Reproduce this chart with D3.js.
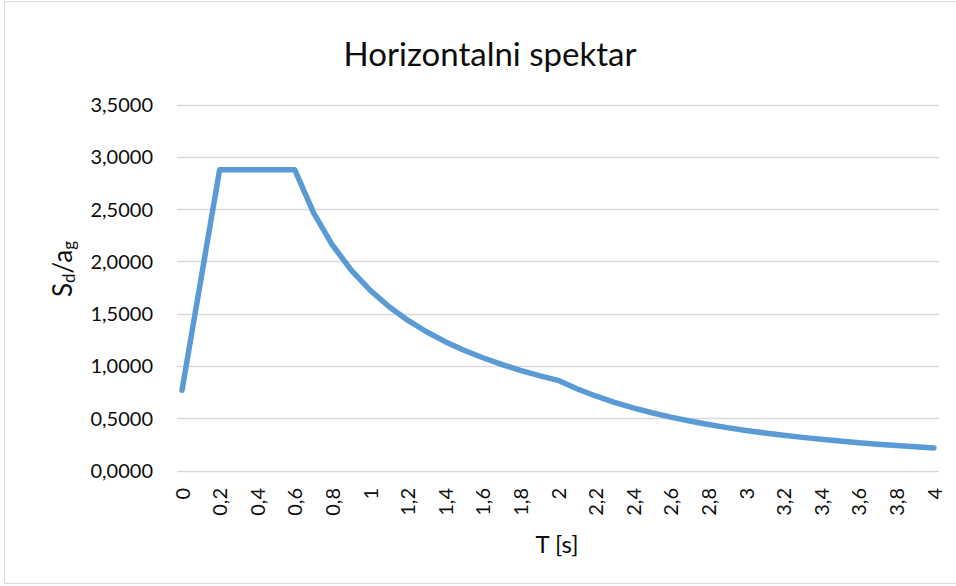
<!DOCTYPE html>
<html>
<head>
<meta charset="utf-8">
<script src="https://cdn.jsdelivr.net/npm/d3@7"></script>
<style>
  html, body { margin: 0; padding: 0; background: #fff; }
  svg { display: block; font-family: Lato, "Open Sans", sans-serif; }
</style>
</head>
<body>
<svg id="chart" width="956" height="586"></svg>
<script>
// ---- data ----
const periods = ["0","0,1","0,2","0,3","0,4","0,5","0,6","0,7","0,8","0,9",
  "1","1,1","1,2","1,3","1,4","1,5","1,6","1,7","1,8","1,9",
  "2","2,1","2,2","2,3","2,4","2,5","2,6","2,7","2,8","2,9",
  "3","3,1","3,2","3,3","3,4","3,5","3,6","3,7","3,8","3,9","4"];
const spectrum = [0.7667, 1.8208, 2.875, 2.875, 2.875, 2.875, 2.875, 2.4643, 2.1563, 1.9167,
  1.725, 1.5682, 1.4375, 1.3269, 1.2321, 1.15, 1.0781, 1.0147, 0.9583, 0.9079,
  0.8625, 0.7823, 0.7128, 0.6522, 0.5990, 0.552, 0.5104, 0.4733, 0.4401, 0.4102,
  0.3833, 0.3590, 0.3369, 0.3168, 0.2984, 0.2816, 0.2662, 0.2520, 0.2389, 0.2268, 0.2156];
const xTickLabels = ["0","0,2","0,4","0,6","0,8","1","1,2","1,4","1,6","1,8",
  "2","2,2","2,4","2,6","2,8","3","3,2","3,4","3,6","3,8","4"];
const yTicks = [0, 0.5, 1, 1.5, 2, 2.5, 3, 3.5];
const titleText = "Horizontalni spektar";
const xTitle = "T [s]";

// ---- layout ----
const svg = d3.select("#chart");
const x = d3.scalePoint().domain(periods).range([182, 934]);
const y = d3.scaleLinear().domain([0, 3.5]).range([470.5, 104.5]);
const gridLeft = 177, gridRight = 939;

// border
svg.append("rect").attr("x", 4.5).attr("y", 1.5).attr("width", 1000).attr("height", 582)
  .attr("fill", "none").attr("stroke", "#d9d9d9").attr("stroke-width", 1);

// gridlines
svg.append("g").selectAll("line").data(yTicks).join("line")
  .attr("x1", gridLeft).attr("x2", gridRight)
  .attr("y1", d => Math.round(y(d)) + 0.5).attr("y2", d => Math.round(y(d)) + 0.5)
  .attr("stroke", "#d9d9d9").attr("stroke-width", 1.5);

// y axis labels
const fmt = d => d3.format(".4f")(d).replace(".", ",");
const yAxis = d3.axisLeft(y).tickValues(yTicks).tickFormat(fmt).tickSize(0).tickPadding(0);
const gy = svg.append("g").attr("transform", "translate(153,0)").call(yAxis);
gy.select(".domain").remove();
gy.selectAll("text").attr("font-size", 20).attr("font-family", "Lato, sans-serif")
  .attr("fill", "#0d0d0d").attr("dy", "0.35em");

// x axis labels
const xAxis = d3.axisBottom(x).tickValues(xTickLabels).tickSize(0).tickPadding(0);
const gx = svg.append("g").attr("transform", "translate(0,488)").call(xAxis);
gx.select(".domain").remove();
gx.selectAll("text")
  .attr("font-size", 20).attr("font-family", "Lato, sans-serif").attr("fill", "#0d0d0d")
  .attr("y", 0).attr("x", 0).attr("dy", "0.35em")
  .attr("transform", "rotate(-90)").attr("text-anchor", "end");

// line
const line = d3.line().x((d, i) => x(periods[i])).y(d => y(d));
svg.append("path").datum(spectrum).attr("d", line)
  .attr("fill", "none").attr("stroke", "#5b9bd5").attr("stroke-width", 5.5)
  .attr("stroke-linejoin", "round").attr("stroke-linecap", "round");

// title
svg.append("text").attr("x", 490).attr("y", 66).attr("text-anchor", "middle")
  .attr("font-size", 33).attr("fill", "#0d0d0d").text(titleText);

// x title
svg.append("text").attr("x", 557).attr("y", 553).attr("text-anchor", "middle")
  .attr("font-size", 24).attr("fill", "#0d0d0d").text(xTitle);

// y title with subscripts
const yt = svg.append("text").attr("transform", "translate(72,269) rotate(-90)")
  .attr("text-anchor", "middle").attr("font-size", 26).attr("fill", "#0d0d0d");
yt.append("tspan").text("S");
yt.append("tspan").attr("font-size", 17).attr("dy", 3).text("d");
yt.append("tspan").attr("dy", -3).text("/a");
yt.append("tspan").attr("font-size", 17).attr("dy", 3).text("g");
</script>
</body>
</html>
